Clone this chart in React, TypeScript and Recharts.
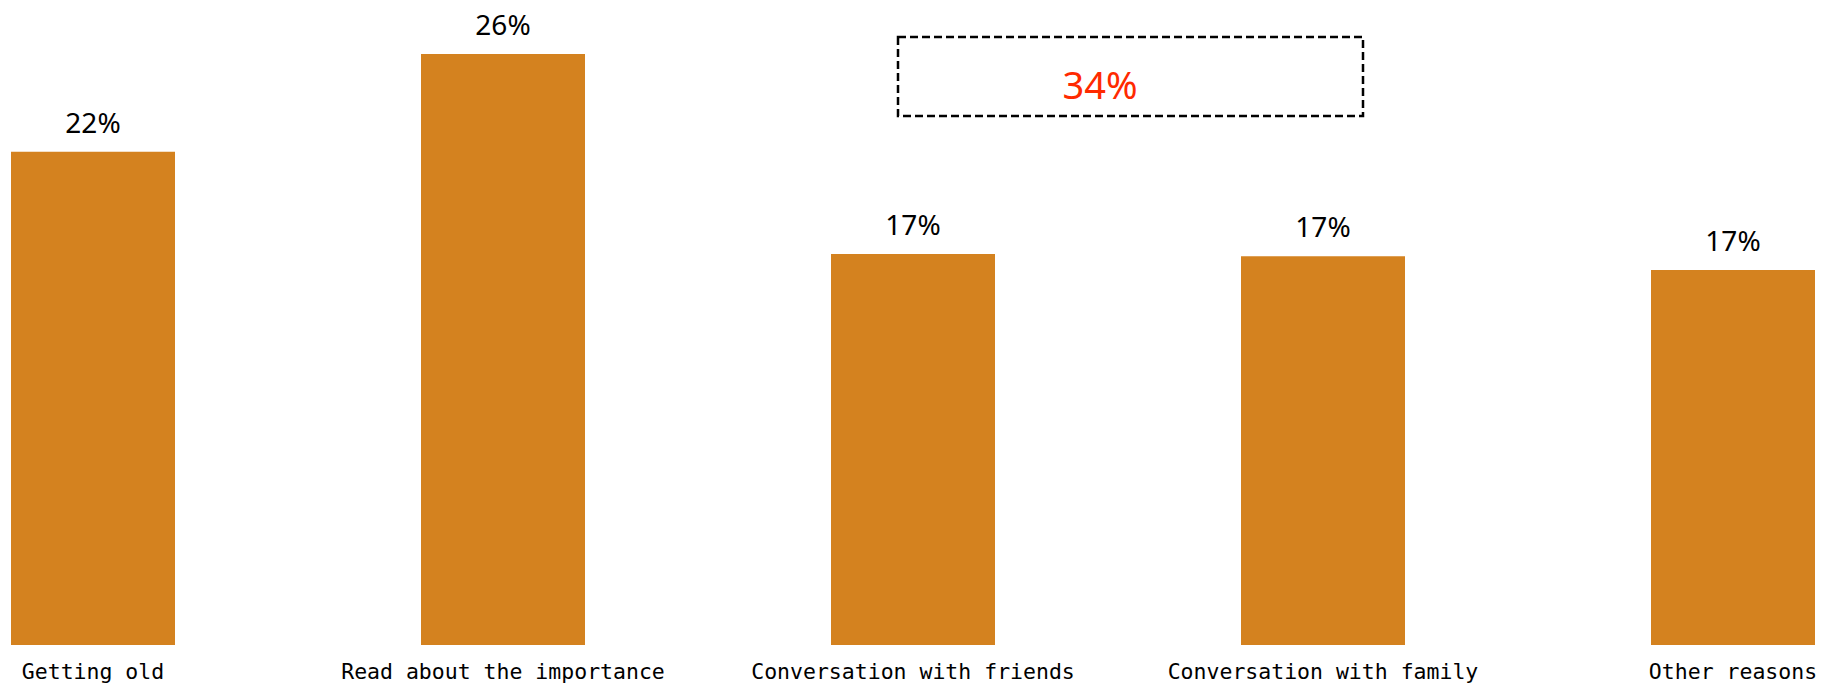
import React from 'react'
import { BarChart, Bar, XAxis, YAxis, LabelList } from 'recharts'

// categories and shares
const categories = [
  'Getting old',
  'Read about the importance',
  'Conversation with friends',
  'Conversation with family',
  'Other reasons',
]
const shares = [21.7, 26, 17.2, 17.1, 16.5]
const groupNote = '34%'

const data = categories.map((name, i) => ({ name, share: shares[i] }))

const barColor = '#D4821F'

const App: React.FC = () => {
  return (
    <div
      style={{
        position: 'absolute',
        left: 0,
        top: 0,
        width: 1835,
        height: 688,
        overflow: 'hidden',
        background: '#fff',
      }}
    >
      <div style={{ position: 'absolute', left: -112, top: 0 }}>
        <BarChart
          width={2050}
          height={688}
          data={data}
          margin={{ top: 54, right: 0, left: 0, bottom: 0 }}
        >
          <XAxis
            dataKey="name"
            height={43}
            axisLine={false}
            tickLine={false}
            tickSize={0}
            tickMargin={19}
            interval={0}
            tick={{ fontFamily: '"DejaVu Sans Mono", monospace', fontSize: 21.5, fill: '#000' }}
          />
          <YAxis hide domain={[0, 26]} />
          <Bar dataKey="share" fill={barColor} barSize={164} isAnimationActive={false}>
            <LabelList
              dataKey="share"
              position="top"
              offset={19}
              formatter={(v: any) => `${Math.round(Number(v))}%`}
              style={{ fontFamily: '"Noto Sans", sans-serif', fontSize: 28, fill: '#000' }}
            />
          </Bar>
        </BarChart>
      </div>
      <svg
        width={1835}
        height={688}
        style={{ position: 'absolute', left: 0, top: 0, pointerEvents: 'none' }}
      >
        <rect
          x={898}
          y={37}
          width={465}
          height={79}
          fill="none"
          stroke="#000"
          strokeWidth={2.5}
          strokeDasharray="8 4"
        />
        <text
          x={1100}
          y={99}
          textAnchor="middle"
          fontFamily='"Noto Sans", sans-serif'
          fontSize={38}
          fill="#FF2A00"
        >
          {groupNote}
        </text>
      </svg>
    </div>
  )
}

export default App
